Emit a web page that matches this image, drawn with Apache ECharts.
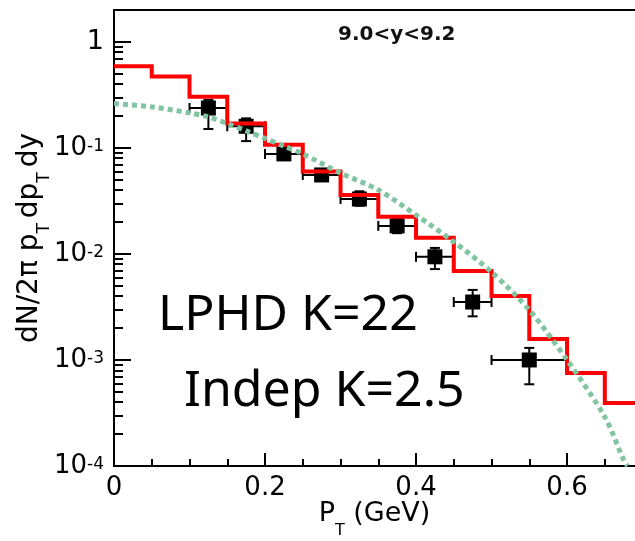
<!DOCTYPE html>
<html>
<head>
<meta charset="utf-8">
<script src="https://cdn.jsdelivr.net/npm/echarts@6/dist/echarts.min.js"></script>
<style>
  html, body { margin: 0; padding: 0; background: #fff; }
  #chart { width: 635px; height: 541px; }
</style>
</head>
<body>
<div id="chart"></div>
<script>
// Histogram bin edges (GeV) and LPHD prediction per bin
const binEdges = [0, 0.05, 0.1, 0.15, 0.2, 0.25, 0.3, 0.35, 0.4, 0.45, 0.5, 0.55, 0.6, 0.65, 0.7];
const lphdValues = [0.588, 0.472, 0.304, 0.170, 0.107, 0.0600, 0.0360, 0.0224, 0.0142, 0.0069, 0.00402, 0.00158, 0.000754, 0.000393];

// Independent-emission curve (pT, yield)
const indepPt = [0, 0.05, 0.1, 0.125, 0.15, 0.175, 0.2, 0.225, 0.25, 0.3, 0.35, 0.4, 0.45, 0.5, 0.55, 0.6, 0.65, 0.675, 0.68];
const indepValues = [0.262, 0.244, 0.214, 0.196, 0.170, 0.145, 0.123, 0.104, 0.088, 0.058, 0.0402, 0.0233, 0.0130, 0.00676, 0.00296, 0.00100, 0.00029, 0.000114, 0.0001];

// Measured points with x-bin and y uncertainty ranges
const dataPt = [0.125, 0.175, 0.225, 0.275, 0.325, 0.375, 0.425, 0.475, 0.55];
const dataY = [0.238, 0.160, 0.0878, 0.0556, 0.0330, 0.0184, 0.0094, 0.00352, 0.00100];
const dataPtLo = [0.1, 0.15, 0.2, 0.25, 0.3, 0.35, 0.4, 0.45, 0.5];
const dataPtHi = [0.15, 0.2, 0.25, 0.3, 0.35, 0.4, 0.45, 0.5, 0.6];
const dataYLo = [0.151, 0.116, 0.077, 0.0488, 0.0285, 0.0157, 0.0072, 0.00258, 0.00059];
const dataYHi = [0.284, 0.190, 0.100, 0.0634, 0.0390, 0.0215, 0.0114, 0.00458, 0.00130];

// Axis ticks
const xMajorTicks = [0, 0.2, 0.4, 0.6];
const xMinorTicks = [0.05, 0.1, 0.15, 0.25, 0.3, 0.35, 0.45, 0.5, 0.55, 0.65];
const yMajorTicks = [1e-4, 1e-3, 1e-2, 1e-1, 1];
const yMinorTicks = [];
[1e-4, 1e-3, 1e-2, 1e-1].forEach(function (d) {
  for (let k = 2; k <= 9; k++) yMinorTicks.push(+(k * d).toPrecision(3));
});

const rangeLabel = '9.0<y<9.2';
const modelLabels = ['LPHD K=22', 'Indep K=2.5'];

const FONT = '"DejaVu Sans", "Liberation Sans", Arial, sans-serif';
const BIG_FONT = '"Noto Sans", "Open Sans", sans-serif';
const axisLineStyle = { color: '#000', width: 2 };

const histData = binEdges.map(function (x, i) {
  return [x, lphdValues[Math.min(i, lphdValues.length - 1)]];
});
const curveData = indepPt.map(function (x, i) { return [x, indepValues[i]]; });
const pointData = dataPt.map(function (x, i) {
  return [x, dataY[i], dataPtLo[i], dataPtHi[i], dataYLo[i], dataYHi[i]];
});

const chart = echarts.init(document.getElementById('chart'), null, { renderer: 'canvas' });

chart.setOption({
  animation: false,
  backgroundColor: '#fff',
  grid: { left: 114, right: 0, top: 10, bottom: 75, containLabel: false, outerBoundsMode: 'none' },
  xAxis: [
    {
      type: 'value', min: 0, max: 0.69, position: 'bottom',
      axisLine: { show: true, onZero: false, lineStyle: axisLineStyle },
      axisTick: { show: true, inside: true, length: 13, customValues: xMajorTicks, lineStyle: axisLineStyle },
      axisLabel: {
        customValues: xMajorTicks, margin: 9, color: '#000', fontSize: 26, fontFamily: FONT,
        formatter: function (v) { return v === 0 ? '0' : v.toFixed(1); }
      },
      splitLine: { show: false },
      name: '{m|P}{s|T}{m| (GeV)}',
      nameLocation: 'middle', nameGap: 34, nameMoveOverlap: false,
      nameTextStyle: {
        rich: {
          m: { fontSize: 27, fontFamily: FONT, color: '#000', lineHeight: 32, verticalAlign: 'top' },
          s: { fontSize: 16, fontFamily: FONT, color: '#000', lineHeight: 16, padding: [23, 0, 0, 0], verticalAlign: 'top' }
        }
      }
    },
    {
      type: 'value', min: 0, max: 0.69, position: 'bottom',
      axisLine: { show: false },
      axisTick: { show: true, inside: true, length: 7, customValues: xMinorTicks, lineStyle: axisLineStyle },
      axisLabel: { show: false },
      splitLine: { show: false }
    },
    {
      type: 'value', min: 0, max: 0.69, position: 'top',
      axisLine: { show: true, onZero: false, lineStyle: axisLineStyle },
      axisTick: { show: false }, axisLabel: { show: false }, splitLine: { show: false }
    }
  ],
  yAxis: [
    {
      type: 'log', logBase: 10, min: 1e-4, max: 2, position: 'left',
      axisLine: { show: true, onZero: false, lineStyle: axisLineStyle },
      axisTick: { show: true, inside: true, length: 17, customValues: yMajorTicks, lineStyle: axisLineStyle },
      minorTick: { show: false },
      axisLabel: {
        customValues: yMajorTicks, margin: 10, color: '#000',
        formatter: function (v) {
          const e = Math.round(Math.log10(v));
          return e === 0 ? '{one|1}' : '{b|10}{s|' + e + '}';
        },
        rich: {
          one: { fontSize: 27, fontFamily: FONT, color: '#000', lineHeight: 30 },
          b: { fontSize: 26, fontFamily: FONT, color: '#000', lineHeight: 26, padding: [10, 0, 0, 0], verticalAlign: 'bottom' },
          s: { fontSize: 17, fontFamily: FONT, color: '#000', lineHeight: 17, padding: [3, 0, 0, 0], verticalAlign: 'top' }
        }
      },
      splitLine: { show: false },
      name: '{m|dN/2π p}{s|T}{m|dp}{s|T}{m|dy}',
      nameLocation: 'middle', nameRotate: 90, nameGap: 64, nameMoveOverlap: false,
      nameTextStyle: {
        rich: {
          m: { fontSize: 28, fontFamily: FONT, color: '#000', lineHeight: 34, verticalAlign: 'top' },
          s: { fontSize: 17, fontFamily: FONT, color: '#000', lineHeight: 17, padding: [20, 5, 0, 0], verticalAlign: 'top' }
        }
      }
    },
    {
      type: 'log', logBase: 10, min: 1e-4, max: 2, position: 'left',
      axisLine: { show: false },
      axisTick: { show: true, inside: true, length: 9, customValues: yMinorTicks, lineStyle: axisLineStyle },
      minorTick: { show: false },
      axisLabel: { show: false },
      splitLine: { show: false }
    }
  ],
  series: [
    {
      // uncertainty bars
      type: 'custom', xAxisIndex: 0, yAxisIndex: 0, z: 2,
      data: pointData,
      encode: { x: 0, y: 1 },
      renderItem: function (params, api) {
        const x = api.value(0), y = api.value(1);
        const l = api.coord([api.value(2), y]);
        const r = api.coord([api.value(3), y]);
        const b = api.coord([x, api.value(4)]);
        const t = api.coord([x, api.value(5)]);
        const st = { stroke: '#000', lineWidth: 2 };
        const seg = function (x1, y1, x2, y2) {
          return { type: 'line', shape: { x1: x1, y1: y1, x2: x2, y2: y2 }, style: st };
        };
        return {
          type: 'group',
          children: [
            seg(l[0], l[1], r[0], r[1]),
            seg(l[0], l[1] - 5, l[0], l[1] + 5),
            seg(r[0], r[1] - 5, r[0], r[1] + 5),
            seg(b[0], b[1], t[0], t[1]),
            seg(b[0] - 5, b[1], b[0] + 5, b[1]),
            seg(t[0] - 5, t[1], t[0] + 5, t[1])
          ]
        };
      }
    },
    {
      type: 'scatter', xAxisIndex: 0, yAxisIndex: 0, z: 3,
      data: pointData.map(function (d) { return [d[0], d[1]]; }),
      symbol: 'rect', symbolSize: 15,
      itemStyle: { color: '#000', opacity: 1 }
    },
    {
      type: 'line', xAxisIndex: 0, yAxisIndex: 0, z: 4,
      data: histData, step: 'end', showSymbol: false, symbol: 'none',
      lineStyle: { color: '#ff0000', width: 4, cap: 'butt', join: 'miter' }
    },
    {
      type: 'line', xAxisIndex: 0, yAxisIndex: 0, z: 5,
      data: curveData, smooth: 0.3, showSymbol: false, symbol: 'none',
      lineStyle: { color: '#80c4a2', width: 5, type: [5, 4], cap: 'butt' }
    }
  ],
  graphic: [
    {
      type: 'text', x: 338, y: 35, z: 10,
      style: { text: rangeLabel, fill: '#111', font: 'bold 20px ' + FONT, align: 'left', verticalAlign: 'middle' }
    },
    {
      type: 'text', x: 158, y: 316, z: 10,
      style: { text: modelLabels[0], fill: '#000', font: '50px ' + BIG_FONT, align: 'left', verticalAlign: 'middle' }
    },
    {
      type: 'text', x: 184, y: 392, z: 10,
      style: { text: modelLabels[1], fill: '#000', font: '50px ' + BIG_FONT, align: 'left', verticalAlign: 'middle' }
    }
  ]
});
</script>
</body>
</html>
